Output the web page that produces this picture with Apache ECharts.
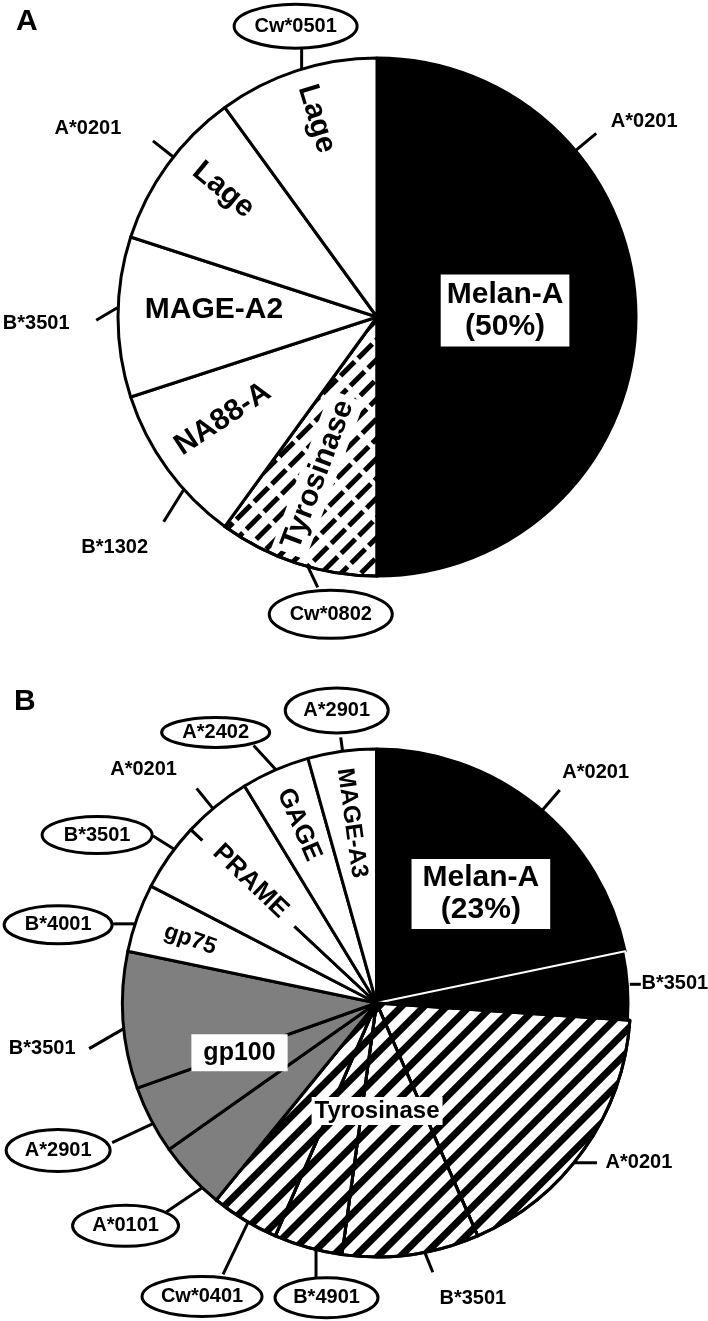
<!DOCTYPE html>
<html>
<head>
<meta charset="utf-8">
<title>Antigen / HLA restriction of T cell responses</title>
<script src="https://cdn.jsdelivr.net/npm/echarts@6/dist/echarts.min.js"></script>
<style>
  html, body { margin: 0; padding: 0; background: #fff; }
  #chart { width: 708px; height: 1321px; }
</style>
</head>
<body>
<div id="chart"></div>
<script>
// ---- panel A: one slice per response, clockwise from 12 o'clock
const antigensA = ['Melan-A', 'Tyrosinase', 'NA88-A', 'MAGE-A2', 'Lage', 'Lage']
const countsA = [5, 1, 1, 1, 1, 1]
const hlaA = ['A*0201', 'Cw*0802', 'B*1302', 'B*3501', 'A*0201', 'Cw*0501']
const ovalA = [false, true, false, false, false, true]
const shareA = '(50%)'

// ---- panel B
const antigensB = ['Melan-A', 'Melan-A', 'Tyrosinase', 'Tyrosinase', 'Tyrosinase', 'Tyrosinase',
  'gp100', 'gp100', 'gp100', 'gp75', 'PRAME', 'PRAME', 'GAGE', 'MAGE-A3']
const countsB = [5, 1, 4, 2, 1, 1, 1, 1, 2, 1, 1, 1, 1, 1]
const hlaB = ['A*0201', 'B*3501', 'A*0201', 'B*3501', 'B*4901', 'Cw*0401',
  'A*0101', 'A*2901', 'B*3501', 'B*4001', 'B*3501', 'A*0201', 'A*2402', 'A*2901']
const ovalB = [false, false, false, false, true, true, true, true, false, true, true, false, true, true]
const shareB = '(23%)'

const family = "'Liberation Sans', Arial, Helvetica, sans-serif"
const tagFont = 'bold 20px ' + family

const pieA = { center: [377, 317], r: 259 }
const pieB = { center: [376.5, 1003], r: 254 }

// stripes for tyrosinase
const hatchA = { symbol: 'rect', symbolSize: 1, dashArrayX: [20, 5], dashArrayY: [5, 9], rotation: -Math.PI / 4, color: '#000' }
const hatchB = { symbol: 'rect', symbolSize: 1, dashArrayX: [1, 0], dashArrayY: [7, 9], rotation: -Math.PI / 4, color: '#000' }

// antigen names inside the pies: slice range, position along it (f), radius fraction (r)
const namesA = [
  { from: 0, to: 0, f: 0.484, r: 0.495, rot: 0, size: 30, box: [4, 6] },
  { from: 1, to: 1, f: 0.57, r: 0.65, rot: 'radial', size: 30, box: [2, 6] },
  { from: 2, to: 2, f: 0.57, r: 0.714, rot: 'radial', size: 30 },
  { from: 3, to: 3, f: 0.57, r: 0.63, rot: 0, size: 30 },
  { from: 4, to: 4, f: 0.6, r: 0.77, rot: 'radial', size: 30 },
  { from: 5, to: 5, f: 0.53, r: 0.8, rot: 'radial', size: 30 }
]
const namesB = [
  { from: 0, to: 1, f: 0.466, r: 0.594, rot: 0, size: 30, box: [3, 11] },
  { from: 2, to: 5, f: 0.685, r: 0.425, rot: 0, size: 24, box: [1, 3] },
  { from: 6, to: 8, f: 0.493, r: 0.574, rot: 0, size: 25, box: [5, 12] },
  { from: 9, to: 9, f: 0.45, r: 0.775, rot: 'radial', size: 23 },
  { from: 10, to: 11, f: 0.53, r: 0.69, rot: 'radial', size: 26, box: [0, 16] },
  { from: 12, to: 12, f: 0.5, r: 0.765, rot: 'radial', size: 26 },
  { from: 13, to: 13, f: 0.5, r: 0.715, rot: 'radial', size: 24 }
]

// HLA tags, one per slice: spot on the rim (f), tick direction (deg, null = radial), tick length, label offset
const tagPosA = [
  { f: 0.278, dir: null, len: 27, dx: 48, dy: -12 },
  { f: 0.43, dir: 154.5, len: 23, dx: 13, dy: 27, w: 123, h: 48 },
  { f: 0.34, dir: 212, len: 38, dx: -49, dy: 26 },
  { f: 0.56, dir: 239.5, len: 25.5, dx: -60, dy: 3 },
  { f: 0.56, dir: null, len: 26, dx: -65, dy: -12 },
  { f: 0.53, dir: 0, len: 21, dx: -6, dy: -22, w: 123, h: 44 }
]
const tagPosB = [
  { f: 0.52, dir: null, len: 27, dx: 36, dy: -17 },
  { f: 0.48, dir: 90, len: 11, dx: 34, dy: -1 },
  { f: 0.56, dir: 90, len: 23, dx: 42, dy: 0 },
  { f: 0.40, dir: 158, len: 21.5, dx: 40, dy: 26 },
  { f: 0.38, dir: 180, len: 28, dx: 10.5, dy: 20, w: 103, h: 40 },
  { f: 0.44, dir: 205.6, len: 58, dx: -21, dy: 22, w: 120, h: 40 },
  { f: 0.27, dir: 235.8, len: 43, dx: -41, dy: 14, w: 106, h: 41 },
  { f: 0.44, dir: 245, len: 45, dx: -54, dy: 8, w: 104, h: 42 },
  { f: 0.44, dir: 240, len: 40, dx: -47, dy: 0 },
  { f: 0.41, dir: 270, len: 22, dx: -55, dy: 1, w: 108, h: 38 },
  { f: 0.63, dir: 302, len: 25, dx: -56, dy: -1, w: 110, h: 37 },
  { f: 0.44, dir: 321, len: 26, dx: -53, dy: -19 },
  { f: 0.51, dir: 317.5, len: 33, dx: -38, dy: -13, w: 108, h: 30 },
  { f: 0.51, dir: null, len: 14, dx: -4, dy: -27, w: 103, h: 45 }
]

function sliceAngles(vals) {
  const total = vals.reduce((a, b) => a + b, 0)
  let acc = 0
  return vals.map(v => {
    const s = acc / total * 360
    acc += v
    return [s, acc / total * 360]
  })
}

// deg clockwise from 12 o'clock
function polar(c, deg, r) {
  const a = deg * Math.PI / 180
  return [c[0] + r * Math.sin(a), c[1] - r * Math.cos(a)]
}

function radialRot(deg) {
  let phi = 90 - deg
  phi = ((phi % 360) + 540) % 360 - 180
  if (phi > 90) phi -= 180
  if (phi < -90) phi += 180
  return phi * Math.PI / 180
}

function sliceStyle(names, i, hatch) {
  const n = names[i]
  const st = {
    color: n === 'Melan-A' ? '#000' : n === 'gp100' ? '#7f7f7f' : '#fff',
    borderColor: '#000',
    borderWidth: 3
  }
  if (n === 'Tyrosinase') st.decal = hatch
  // two black slices side by side get a white split line
  if (i > 0 && n === 'Melan-A' && names[i - 1] === 'Melan-A') {
    st.borderColor = '#fff'
    st.borderWidth = 2
  }
  return st
}

function pieSeries(pie, names, vals, hatch) {
  return {
    type: 'pie',
    center: pie.center,
    radius: pie.r,
    startAngle: 90,
    clockwise: true,
    silent: true,
    z: 1,
    label: { show: false },
    labelLine: { show: false },
    data: names.map((n, i) => ({ name: n, value: vals[i], itemStyle: sliceStyle(names, i, hatch) }))
  }
}

function nameLabels(pie, names, vals, share, layout) {
  const ang = sliceAngles(vals)
  return layout.map(L => {
    const s = ang[L.from][0]
    const e = ang[L.to][1]
    const th = s + (e - s) * L.f
    const p = polar(pie.center, th, pie.r * L.r)
    const text = names[L.from] === 'Melan-A' ? names[L.from] + '\n' + share : names[L.from]
    const style = {
      text: text,
      font: 'bold ' + L.size + 'px ' + family,
      fill: '#000',
      align: 'center',
      verticalAlign: 'middle',
      lineHeight: L.size + 2
    }
    if (L.box) {
      style.backgroundColor = '#fff'
      style.padding = L.box
    }
    return { type: 'text', z: 20, x: p[0], y: p[1], rotation: L.rot === 'radial' ? radialRot(th) : 0, style: style }
  })
}

function hlaTags(pie, vals, tags, ovals, layout) {
  const ang = sliceAngles(vals)
  const els = []
  layout.forEach((L, i) => {
    const th = ang[i][0] + (ang[i][1] - ang[i][0]) * L.f
    const p0 = polar(pie.center, th, pie.r)
    const p1 = polar(p0, L.dir == null ? th : L.dir, L.len)
    els.push({ type: 'line', z: 20, shape: { x1: p0[0], y1: p0[1], x2: p1[0], y2: p1[1] }, style: { stroke: '#000', lineWidth: 3 } })
    const cx = p1[0] + L.dx
    const cy = p1[1] + L.dy
    if (ovals[i]) {
      els.push({ type: 'ellipse', z: 21, shape: { cx: cx, cy: cy, rx: L.w / 2, ry: L.h / 2 }, style: { fill: '#fff', stroke: '#000', lineWidth: 3 } })
    }
    els.push({ type: 'text', z: 22, x: cx, y: cy, style: { text: tags[i], font: tagFont, fill: '#000', align: 'center', verticalAlign: 'middle' } })
  })
  return els
}

const chart = echarts.init(document.getElementById('chart'))
chart.setOption({
  backgroundColor: '#fff',
  animation: false,
  series: [
    pieSeries(pieA, antigensA, countsA, hatchA),
    pieSeries(pieB, antigensB, countsB, hatchB)
  ],
  graphic: [
    { type: 'text', z: 20, x: 16, y: 22, style: { text: 'A', font: 'bold 30px ' + family, fill: '#000', verticalAlign: 'middle' } },
    { type: 'text', z: 20, x: 14, y: 702, style: { text: 'B', font: 'bold 30px ' + family, fill: '#000', verticalAlign: 'middle' } }
  ].concat(
    nameLabels(pieA, antigensA, countsA, shareA, namesA),
    nameLabels(pieB, antigensB, countsB, shareB, namesB),
    hlaTags(pieA, countsA, hlaA, ovalA, tagPosA),
    hlaTags(pieB, countsB, hlaB, ovalB, tagPosB)
  )
})
</script>
</body>
</html>
